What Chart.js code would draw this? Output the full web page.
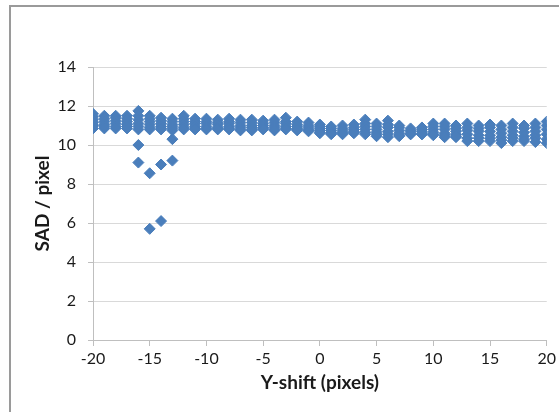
<!DOCTYPE html>
<html>
<head>
<meta charset="utf-8">
<script src="https://cdn.jsdelivr.net/npm/chart.js@4.4.1/dist/chart.umd.min.js"></script>
<style>
  html, body { margin: 0; padding: 0; background: #fff; overflow: hidden; }
  #frame { position: absolute; left: 9px; top: 5px; width: 700px; height: 500px; border: 2px solid #9a9a9a; }
  #wrap { position: absolute; left: 0; top: 0; width: 559px; height: 412px; }
</style>
</head>
<body>
<div id="frame"></div>
<div id="wrap"><canvas id="chart" width="559" height="412"></canvas></div>
<script>
// Y-shift values (x axis)
const yShift = [-20, -19, -18, -17, -16, -15, -14, -13, -12, -11, -10, -9, -8, -7, -6, -5, -4, -3, -2, -1,
  0, 1, 2, 3, 4, 5, 6, 7, 8, 9, 10, 11, 12, 13, 14, 15, 16, 17, 18, 19, 20];

// SAD per pixel, several samples per shift
const sadRunA = [11.6, 11.5, 11.5, 11.5, 11.75, 11.5, 11.4, 11.35, 11.5, 11.35, 11.35, 11.3, 11.35, 11.3, 11.3, 11.25, 11.3, 11.4, 11.2, 11.15,
  11.05, 10.95, 11.0, 11.05, 11.3, 11.1, 11.25, 11.0, 10.85, 10.9, 11.1, 11.1, 11.0, 11.1, 11.0, 11.05, 11.0, 11.1, 11.0, 11.1, 11.2];
const sadRunB = [11.45, 11.35, 11.4, 11.35, 11.5, 11.35, 11.25, 11.2, 11.35, 11.2, 11.2, 11.15, 11.2, 11.15, 11.15, 11.1, 11.15, 11.2, 11.05, 11.0,
  10.95, 10.85, 10.85, 10.9, 11.1, 10.95, 11.05, 10.9, 10.75, 10.8, 10.95, 10.95, 10.85, 10.9, 10.85, 10.9, 10.8, 10.9, 10.85, 10.9, 11.0];
const sadRunC = [11.3, 11.2, 11.25, 11.2, 11.3, 11.2, 11.1, 11.05, 11.2, 11.1, 11.1, 11.05, 11.1, 11.0, 11.0, 11.0, 11.0, 11.1, 10.95, 10.9,
  10.85, 10.75, 10.75, 10.8, 10.95, 10.8, 10.9, 10.75, 10.7, 10.7, 10.8, 10.8, 10.7, 10.75, 10.7, 10.7, 10.6, 10.7, 10.65, 10.7, 10.8];
const sadRunD = [11.15, 11.05, 11.1, 11.05, 11.1, 11.05, 10.95, 10.95, 11.05, 10.95, 10.95, 10.9, 10.95, 10.9, 10.9, 10.9, 10.9, 10.95, 10.85, 10.8,
  10.75, 10.65, 10.65, 10.7, 10.8, 10.65, 10.7, 10.6, 10.6, 10.6, 10.65, 10.6, 10.55, 10.55, 10.5, 10.5, 10.4, 10.5, 10.45, 10.5, 10.55];
const sadRunE = [11.0, 10.95, 10.95, 10.95, 10.95, 10.9, 10.85, 10.85, 10.9, 10.85, 10.85, 10.85, 10.85, 10.8, 10.8, 10.85, 10.8, 10.85, 10.8, 10.75,
  10.65, 10.6, 10.6, 10.65, 10.65, 10.55, 10.55, 10.5, 10.55, 10.55, 10.55, 10.5, 10.45, 10.35, 10.35, 10.35, 10.25, 10.35, 10.3, 10.35, 10.3];
const sadRunF = [10.85, 10.85, 10.85, 10.85, 10.8, 10.8, 10.8, 10.75, 10.8, 10.8, 10.8, 10.8, 10.8, 10.75, 10.75, 10.8, 10.75, 10.8, 10.75, 10.7,
  10.6, 10.55, 10.55, 10.6, 10.55, 10.45, 10.4, 10.45, 10.55, 10.55, 10.5, 10.4, 10.4, 10.2, 10.2, 10.2, 10.1, 10.2, 10.2, 10.15, 10.1];

// Stray samples below the band
const outlierShift = [-16, -16, -15, -15, -14, -14, -13, -13];
const outlierSad = [10.0, 9.1, 8.55, 5.7, 9.0, 6.1, 9.2, 10.3];

// Axis ticks
const xTicks = [-20, -15, -10, -5, 0, 5, 10, 15, 20];
const yTicks = [0, 2, 4, 6, 8, 10, 12, 14];

const points = [];
[sadRunA, sadRunB, sadRunC, sadRunD, sadRunE, sadRunF].forEach(run => {
  run.forEach((v, i) => points.push({ x: yShift[i], y: v }));
});
outlierSad.forEach((v, i) => points.push({ x: outlierShift[i], y: v }));

const font = 'Lato, "Open Sans", sans-serif';
const blue = '#4a7ebb';

new Chart(document.getElementById('chart'), {
  type: 'scatter',
  data: {
    datasets: [{
      data: points,
      pointStyle: 'rectRot',
      pointRadius: 5.5,
      pointHoverRadius: 5.5,
      backgroundColor: blue,
      borderColor: blue,
      borderWidth: 1,
    }],
  },
  options: {
    responsive: false,
    animation: false,
    layout: { padding: { left: 0, right: 12, top: 67, bottom: 0 } },
    plugins: { legend: { display: false }, tooltip: { enabled: false } },
    scales: {
      x: {
        type: 'linear',
        min: -20,
        max: 20,
        afterBuildTicks: s => { s.ticks = xTicks.map(v => ({ value: v })); },
        afterFit: s => { s.height = 72; },
        grid: { drawOnChartArea: false, drawTicks: true, tickLength: 6, color: '#bfbfbf' },
        border: { color: '#bfbfbf' },
        ticks: { color: '#1a1a1a', font: { family: font, size: 16 }, padding: 3, maxRotation: 0 },
        title: { display: true, text: 'Y-shift (pixels)', color: '#1a1a1a', font: { family: font, size: 19, weight: 'bold' }, padding: { bottom: 18 } },
      },
      y: {
        min: 0,
        max: 14,
        afterBuildTicks: s => { s.ticks = yTicks.map(v => ({ value: v })); },
        afterFit: s => { s.width = 93; },
        grid: { color: '#d9d9d9', tickLength: 5, tickColor: '#bfbfbf' },
        border: { color: '#bfbfbf' },
        ticks: { color: '#1a1a1a', font: { family: font, size: 16 }, padding: 12 },
        title: { display: true, text: 'SAD / pixel', color: '#1a1a1a', font: { family: font, size: 19, weight: 'bold' }, padding: { top: 31 } },
      },
    },
  },
});
</script>
</body>
</html>
